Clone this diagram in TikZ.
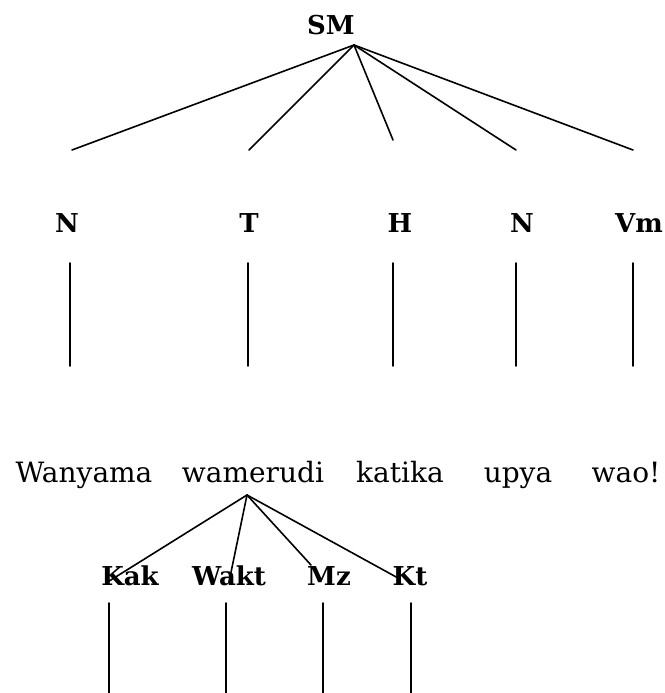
\documentclass[tikz,border=0pt]{standalone}
\usepackage{fontspec}
\setmainfont{DejaVu Serif}
\begin{document}
\begin{tikzpicture}[x=1pt,y=-1pt,
  cat/.style={font=\fontsize{26}{30}\selectfont\bfseries, inner sep=0pt, anchor=base},
  word/.style={font=\fontsize{28}{32}\selectfont, inner sep=0pt, anchor=base},
  branch/.style={line width=1.6pt, line cap=round}]
\useasboundingbox (0,0) rectangle (664,693);

% root of the sentence tree
\node[cat] (sm) at (331,35) {SM};
\coordinate (top) at (354,45);

% upper branch ends
\coordinate (b1) at (72,150);
\coordinate (b2) at (249,150);
\coordinate (b3) at (393,140);
\coordinate (b4) at (516,150);
\coordinate (b5) at (633,150);
\foreach \b in {b1,b2,b3,b4,b5} \draw[branch] (top) -- (\b);

% phrase categories
\node[cat] (n1) at (67,232) {N};
\node[cat] (t)  at (249,232) {T};
\node[cat] (h)  at (400,232) {H};
\node[cat] (n2) at (522,232) {N};
\node[cat] (vm) at (639,232) {Vm};

% vertical links to the words
\foreach \x/\i in {70/1,248/2,393/3,516/4,633/5}{
  \coordinate (u\i) at (\x,263);
  \coordinate (d\i) at (\x,366);
  \draw[branch] (u\i) -- (d\i);
}

% the sentence
\node[word] (w1) at (84,482) {Wanyama};
\node[word] (w2) at (253,482) {wamerudi};
\node[word] (w3) at (400,482) {katika};
\node[word] (w4) at (518,482) {upya};
\node[word] (w5) at (626,482) {wao!};

% morpheme tree under the verb
\coordinate (vtop) at (247,495);
\coordinate (m1) at (106,583);
\coordinate (m2) at (229,582);
\coordinate (m3) at (311,565);
\coordinate (m4) at (398,578);
\foreach \m in {m1,m2,m3,m4} \draw[branch] (vtop) -- (\m);

\node[cat] (kak)  at (130,585) {Kak};
\node[cat] (wakt) at (229,585) {Wakt};
\node[cat] (mz)   at (329,585) {Mz};
\node[cat] (kt)   at (410,585) {Kt};

\foreach \x/\i in {109/1,226/2,323/3,411/4}{
  \coordinate (p\i) at (\x,603);
  \coordinate (q\i) at (\x,700);
  \draw[branch] (p\i) -- (q\i);
}
\end{tikzpicture}
\end{document}
